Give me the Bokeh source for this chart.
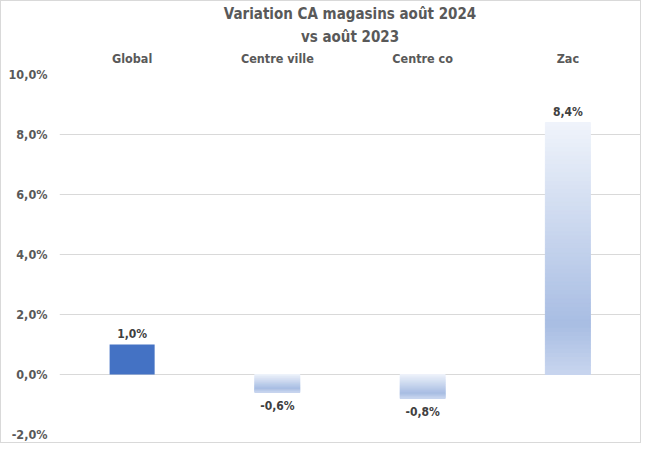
import numpy as np
from bokeh.plotting import figure
from bokeh.models import FactorRange, Range1d, CustomJSTickFormatter, FixedTicker, Title
from bokeh.core.properties import value
from bokeh.embed import file_html
from bokeh.resources import INLINE

categories = ["Global", "Centre ville", "Centre co", "Zac"]
values = [1.0, -0.6, -0.8, 8.4]
labels = ["1,0%", "-0,6%", "-0,8%", "8,4%"]
y_ticks = [-2, 0, 2, 4, 6, 8, 10]
title_lines = ["Variation CA magasins août 2024", "vs août 2023"]

FONT = "DejaVu Sans Condensed"
BAR_W = 0.31

p = figure(width=641, height=443, x_range=FactorRange(*categories), y_range=Range1d(-2, 10),
           output_backend="svg", toolbar_location=None, x_axis_location="above", title=None,
           min_border_left=58, min_border_right=2, min_border_bottom=10, min_border_top=4)
p.styles = {"border": "1px solid #D9D9D9", "box-sizing": "border-box"}
p.outline_line_color = None
p.background_fill_color = "white"
p.border_fill_color = "white"

for txt in reversed(title_lines):
    p.add_layout(Title(text=txt, align="center", text_font=FONT, text_font_size="15px",
                       text_color="#595959", text_font_style="bold", standoff=3), "above")

# gradient strips (styling of each bar)
stops_t = [0.0, 0.8, 1.0]
stops_c = [(0xF0, 0xF4, 0xFB), (0xA8, 0xBD, 0xE3), (0xC8, 0xD5, 0xEE)]
N = 60
gx, gb, gt, gc = [], [], [], []
for cat, v in zip(categories, values):
    if cat == "Global":
        continue
    top, bot = max(v, 0), min(v, 0)
    edges = np.linspace(top, bot, N + 1)
    for i in range(N):
        t = (i + 0.5) / N
        rgb = [int(round(np.interp(t, stops_t, [c[k] for c in stops_c]))) for k in range(3)]
        gx.append(cat)
        gt.append(edges[i])
        gb.append(edges[i + 1])
        gc.append("#%02x%02x%02x" % tuple(rgb))

p.vbar(x=gx, top=gt, bottom=gb, width=BAR_W, fill_color=gc, line_color=gc, line_width=1)
p.vbar(x=[categories[0]], top=[values[0]], bottom=[0], width=BAR_W, fill_color="#4472C4", line_color=None)

pos = [c for c, v in zip(categories, values) if v >= 0]
posv = [v for v in values if v >= 0]
posl = [l for l, v in zip(labels, values) if v >= 0]
neg = [c for c, v in zip(categories, values) if v < 0]
negv = [v for v in values if v < 0]
negl = [l for l, v in zip(labels, values) if v < 0]

p.text(x=pos, y=posv, text=posl, text_align="center", text_baseline="bottom", y_offset=-4,
       text_font=value(FONT), text_font_size="12px", text_font_style="bold", text_color="#404040")
p.text(x=neg, y=negv, text=negl, text_align="center", text_baseline="top", y_offset=6,
       text_font=value(FONT), text_font_size="12px", text_font_style="bold", text_color="#404040")

p.xgrid.grid_line_color = None
p.ygrid.grid_line_color = "#D9D9D9"
p.ygrid.ticker = FixedTicker(ticks=y_ticks)

p.yaxis.ticker = FixedTicker(ticks=y_ticks)
p.yaxis.formatter = CustomJSTickFormatter(code="return tick.toFixed(1).replace('.', ',') + '%';")
for ax in (p.xaxis[0], p.yaxis[0]):
    ax.axis_line_color = None
    ax.major_tick_line_color = None
    ax.minor_tick_line_color = None
    ax.major_tick_out = 0
    ax.major_tick_in = 0
    ax.major_label_text_font = FONT
    ax.major_label_text_font_size = "12.5px"
    ax.major_label_text_font_style = "bold"
    ax.major_label_text_color = "#595959"
p.yaxis.major_label_standoff = 12
p.xaxis.major_label_standoff = 9
p.xaxis.major_label_orientation = "horizontal"

open("out.html", "w").write(file_html(p, INLINE))
